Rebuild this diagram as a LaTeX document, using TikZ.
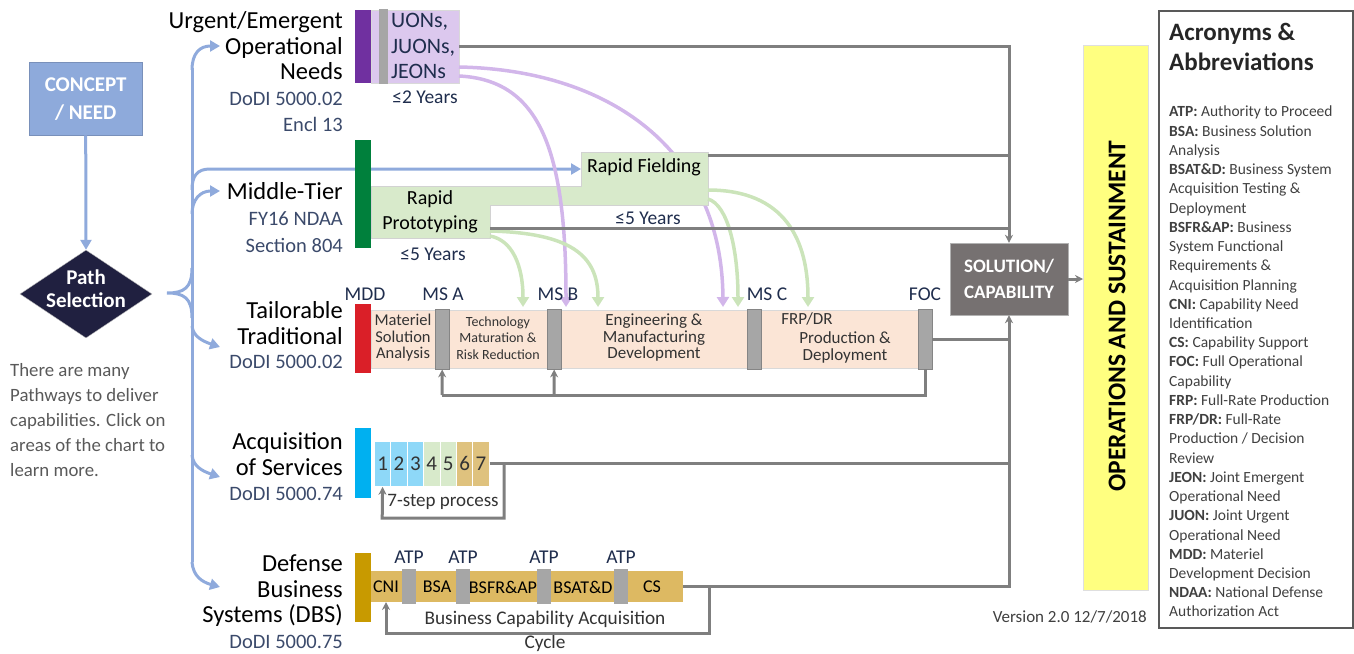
\documentclass[tikz,border=0pt]{standalone}
\usepackage{fontspec}
\setmainfont{Carlito}
\usepackage{tikz}
\usetikzlibrary{positioning}
\usetikzlibrary{arrows.meta}
\usetikzlibrary{shapes.geometric}

\definecolor{conceptblue}{HTML}{8EAADB}
\definecolor{pathnavy}{HTML}{202040}
\definecolor{branchblue}{HTML}{8FAADC}
\definecolor{uonpurple}{HTML}{7030A0}
\definecolor{uonlilac}{HTML}{DCC8EE}
\definecolor{curvelilac}{HTML}{D2B6EA}
\definecolor{mtagreen}{HTML}{00803C}
\definecolor{rapidgreen}{HTML}{D8EACB}
\definecolor{curvegreen}{HTML}{CBE4BA}
\definecolor{ttred}{HTML}{DA1F28}
\definecolor{ttpeach}{HTML}{FBE5D6}
\definecolor{msgray}{HTML}{A6A6A6}
\definecolor{linkgray}{HTML}{7F7F7F}
\definecolor{aoscyan}{HTML}{00B0F0}
\definecolor{stepcyan}{HTML}{8ED8F8}
\definecolor{steptan}{HTML}{DFC27E}
\definecolor{dbsgold}{HTML}{C89A00}
\definecolor{dbstan}{HTML}{DDB962}
\definecolor{solgray}{HTML}{767171}
\definecolor{omyellow}{HTML}{FFFF80}
\definecolor{refnavy}{HTML}{3B4A6B}
\definecolor{msnavy}{HTML}{1F2D4D}
\definecolor{notegray}{HTML}{595959}
\definecolor{acrtext}{HTML}{404040}

\newcommand{\fsz}[2]{\fontsize{#1}{#2}\selectfont}

\tikzset{
  blk/.style={rectangle, inner sep=0pt, anchor=north west},
  pathlbl/.style={anchor=east, align=right, inner sep=0pt, font=\fsz{24.5}{25.5}},
  doclbl/.style={anchor=east, align=right, inner sep=0pt, font=\fsz{20.5}{26.5}, text=refnavy},
  mslbl/.style={inner sep=0pt, font=\fsz{19.5}{19.5}, text=msnavy},
  msbar/.style={blk, fill=msgray, draw=msgray!80!black, line width=0.4pt, minimum width=14pt, minimum height=60pt},
  atpbar/.style={blk, fill=msgray, minimum width=14pt, minimum height=35pt},
  phase/.style={align=center, inner sep=0pt, text=black!80},
  bline/.style={draw=branchblue, line width=3pt},
  barrow/.style={bline, -{Triangle[length=10pt,width=11pt]}},
  gline/.style={draw=linkgray, line width=3pt},
  garrow/.style={gline, -{Stealth[length=8pt,width=8pt]}},
  lilacarrow/.style={draw=curvelilac, line width=3.5pt, -{Triangle[length=10pt,width=12pt]}},
  greenarrow/.style={draw=curvegreen, line width=3.5pt, -{Triangle[length=10pt,width=12pt]}}
}

\begin{document}
\begin{tikzpicture}[x=1pt,y=-1pt]
\useasboundingbox (0,0) rectangle (1354,653);

% concept and path selection
\node[blk, fill=conceptblue, draw=conceptblue!85!black, minimum width=113pt, minimum height=73pt, align=center, text=white, font=\fsz{21}{28}\bfseries] (concept) at (29,62) {CONCEPT\\/ NEED};
\node[diamond, fill=pathnavy, draw=gray!50, inner sep=0pt, minimum width=132pt, minimum height=88pt] (select) at (86,294) {};
\node[align=center, text=white, font=\fsz{21}{23}\bfseries] (selecttxt) at (86,289) {Path\\Selection};
\draw[barrow] (concept.south) -- (select.north);
\node[anchor=west, align=left, inner sep=0pt, text=notegray, font=\fsz{18.8}{25}] (note) at (10,420) {There are many\\Pathways to deliver\\capabilities. Click on\\areas of the chart to\\learn more.};

% branches
\coordinate (uonin) at (220,46);
\coordinate (mtain) at (220,191);
\coordinate (ttin) at (220,347);
\coordinate (aosin) at (220,477);
\coordinate (dbsin) at (220,587);
\coordinate (rfin) at (581,169);
\draw[bline] (192,268) .. controls (192,288) and (184,293) .. (167,293) .. controls (184,293) and (192,298) .. (192,318);
\draw[bline] (192,68) -- (192,562);
\draw[barrow] (192,70) .. controls (192,53) and (200,46) .. (uonin);
\draw[barrow] (192,190) .. controls (192,176) and (197,169) .. (210,169) -- (rfin);
\draw[barrow] (192,214) .. controls (192,200) and (200,191) .. (mtain);
\draw[barrow] (192,326) .. controls (193,336) and (202,341) .. (ttin);
\draw[barrow] (192,455) .. controls (193,466) and (202,471) .. (aosin);
\draw[barrow] (192,562) .. controls (193,576) and (202,582) .. (dbsin);

% pathway names
\node[pathlbl] (uonlbl) at (343,46) {Urgent/Emergent\\Operational\\Needs};
\node[doclbl] (uondoc) at (343,112) {DoDI 5000.02\\Encl 13};
\node[pathlbl] (mtalbl) at (343,191) {Middle-Tier};
\node[doclbl] (mtadoc) at (343,232) {FY16 NDAA\\Section 804};
\node[pathlbl] (ttlbl) at (343,323) {Tailorable\\Traditional};
\node[doclbl] (ttdoc) at (343,362) {DoDI 5000.02};
\node[pathlbl] (aoslbl) at (343,454) {Acquisition\\of Services};
\node[doclbl] (aosdoc) at (343,494) {DoDI 5000.74};
\node[pathlbl] (dbslbl) at (343,591) {Defense\\Business\\Systems (DBS)};
\node[doclbl] (dbsdoc) at (343,642) {DoDI 5000.75};

% urgent needs
\node[blk, fill=uonlilac, draw=gray!30, minimum width=88pt, minimum height=73pt] (uon) at (371,10) {};
\node[blk, fill=uonpurple, minimum width=16pt, minimum height=73pt] (uonbar) at (355,10) {};
\node[blk, fill=msgray, minimum width=9pt, minimum height=75pt] (uonms) at (379,9) {};
\node[anchor=west, align=left, inner sep=0pt, font=\fsz{22}{25.5}, text=msnavy] (uontxt) at (391,46) {UONs,\\JUONs,\\JEONs};
\node[mslbl] (uonyrs) at (425,97) {≤2 Years};

\coordinate (jeonA) at (459,76);
\coordinate (jeonB) at (459,67);
\coordinate (msbin) at (566,307);
\coordinate (mscin) at (723,307);
\draw[lilacarrow] (jeonB) .. controls (610,70) and (722,150) .. (mscin);

% middle tier
\draw[fill=rapidgreen, draw=gray!35] (371,186) -- (581,186) -- (581,152) -- (708,152) -- (708,205) -- (490,205) -- (490,238) -- (371,238) -- cycle;
\node[blk, fill=mtagreen, minimum width=16pt, minimum height=108pt] (mtabar) at (355,140) {};
\node[align=center, inner sep=0pt, font=\fsz{20}{25}] (rp) at (430,212) {Rapid\\Prototyping};
\node[inner sep=0pt, font=\fsz{20}{20}] (rf) at (644,167) {Rapid Fielding};
\node[mslbl] (rpyrs) at (433,254) {≤5 Years};
\node[mslbl] (rfyrs) at (648,218) {≤5 Years};
\coordinate (rfR) at (708,155);
\coordinate (rpR) at (490,228);

\draw[lilacarrow] (jeonA) .. controls (540,80) and (566,150) .. (msbin);
\coordinate (rpoutA) at (490,236);
\coordinate (rpoutB) at (490,231);
\coordinate (rfoutA) at (708,190);
\coordinate (rfoutB) at (708,199);
\draw[greenarrow] (rpoutA) .. controls (512,240) and (523,265) .. (523,307);
\draw[greenarrow] (rpoutB) .. controls (570,233) and (598,255) .. (598,307);
\draw[greenarrow] (rfoutA) .. controls (785,190) and (808,240) .. (808,307);
\draw[greenarrow] (rfoutB) .. controls (728,205) and (738,250) .. (738,307);

% tailorable traditional
\node[blk, fill=ttpeach, draw=gray!30, minimum width=561pt, minimum height=58pt] (tt) at (371,310) {};
\node[blk, fill=ttred, minimum width=16pt, minimum height=69pt] (ttbar) at (355,304) {};
\node[msbar] (msa) at (435,309) {};
\node[msbar] (msb) at (547,309) {};
\node[msbar] (msc) at (747,309) {};
\node[msbar] (foc) at (918,309) {};
\node[mslbl] (mddlbl) at (365,294) {MDD};
\node[mslbl] (msalbl) at (443,294) {MS A};
\node[mslbl] (msblbl) at (558,294) {MS B};
\node[mslbl] (msclbl) at (767,294) {MS C};
\node[mslbl] (foclbl) at (925,294) {FOC};
\node[phase, font=\fsz{16.5}{16.5}] (msa-ph) at (403,338) {Materiel\\Solution\\Analysis};
\node[phase, font=\fsz{14}{16.5}] (tmrr) at (498,338) {Technology\\Maturation \&\\Risk Reduction};
\node[phase, font=\fsz{17}{16.5}] (emd) at (654,338) {Engineering \&\\Manufacturing\\Development};
\node[phase, font=\fsz{17}{17}] (frpdr) at (807,319) {FRP/DR};
\node[phase, font=\fsz{17}{17}] (pd) at (845,347) {Production \&\\Deployment};

% acquisition of services
\node[blk, fill=aoscyan, minimum width=16pt, minimum height=70pt] (aosbar) at (355,428) {};
\foreach \i/\c in {1/stepcyan,2/stepcyan,3/stepcyan,4/rapidgreen,5/rapidgreen,6/steptan,7/steptan}
  \node[blk, fill=\c, draw=white, line width=0.8pt, minimum width=16.4pt, minimum height=45pt, font=\fsz{21}{21}, text=black!80] (step\i) at ({374+16.4*(\i-1)},441) {\i};
\node[inner sep=0pt, font=\fsz{19}{19}, text=black!80] (steptxt) at (443,502) {7-step process};

% defense business systems
\node[blk, fill=dbstan, minimum width=312pt, minimum height=31pt] (dbs) at (371,571) {};
\node[blk, fill=dbsgold, minimum width=16pt, minimum height=69pt] (dbsbar) at (355,553) {};
\foreach \x/\n in {402/1,456/2,537/3,614/4}
  \node[atpbar] (atp\n) at (\x,569) {};
\foreach \x/\n in {409/1,463/2,544/3,621/4}
  \node[mslbl] (atplbl\n) at (\x,557) {ATP};
\node[inner sep=0pt, font=\fsz{18}{18}] (cni) at (386,587) {CNI};
\node[inner sep=0pt, font=\fsz{18}{18}] (bsa) at (437,587) {BSA};
\node[inner sep=0pt, font=\fsz{18}{18}] (bsfr) at (503,587) {BSFR\&AP};
\node[inner sep=0pt, font=\fsz{18}{18}] (bsat) at (583,587) {BSAT\&D};
\node[inner sep=0pt, font=\fsz{18}{18}] (cs) at (652,587) {CS};
\node[inner sep=0pt, font=\fsz{19.3}{19.3}, text=black!80] (bcac) at (545,619) {Business Capability Acquisition};
\node[inner sep=0pt, font=\fsz{19.3}{19.3}, text=black!80] (cycle) at (545,643) {Cycle};

% solution and sustainment
\node[fill=solgray, draw=gray!60, minimum width=118pt, minimum height=72pt, align=center, text=white, font=\fsz{19}{26}\bfseries] (sol) at (1009,279) {SOLUTION/\\CAPABILITY};
\node[blk, fill=omyellow, draw=gray!25, minimum width=65pt, minimum height=545pt] (om) at (1083,45) {};
\node[rotate=90, font=\fsz{25.5}{25.5}\bfseries] (omtxt) at (1117,316) {OPERATIONS AND SUSTAINMENT};

% gray connectors
\draw[garrow] (uon.east) -| (sol.north);
\draw[gline] (rfR) -- (rfR -| sol.north);
\draw[gline] (rpR) -- (rpR -| sol.north);
\draw[gline] (foc.east) -- (foc.east -| sol.south);
\draw[gline] (step7.east) -- (step7.east -| sol.south);
\draw[garrow] (dbs.east) -| (sol.south);
\draw[garrow] (sol.east) -- (sol.east -| om.west);

% feedback loops
\coordinate (ttloopA) at (442,395);
\coordinate (ttloopB) at (554,395);
\draw[gline] (foc.south) |- (ttloopA);
\draw[garrow] (ttloopA) -- (msa.south);
\draw[garrow] (ttloopB) -- (msb.south);
\coordinate (aosloopR) at (504,463.5);
\coordinate (aosloopL) at (382.2,518);
\draw[garrow] (aosloopR) |- (aosloopL) -- (step1.south);
\coordinate (dbsloopR) at (709,586.5);
\coordinate (dbsloopL) at (386,633);
\coordinate (cniin) at (386,602);
\draw[garrow] (dbsloopR) |- (dbsloopL) -- (cniin);

% acronyms
\node[blk, draw=black!65, line width=1.5pt, minimum width=194pt, minimum height=617pt] (acr) at (1158,10) {};
\node[anchor=west, align=left, inner sep=0pt, font=\fsz{25}{30}\bfseries, text=black!85] (acrtitle) at (1169,47) {Acronyms \&\\Abbreviations};
\node[blk, align=left, font=\fsz{15.5}{19.23}, text=acrtext] (acrlist) at (1169,106) {%
\textbf{ATP:} Authority to Proceed\\
\textbf{BSA:} Business Solution\\
Analysis\\
\textbf{BSAT\&D:} Business System\\
Acquisition Testing \&\\
Deployment\\
\textbf{BSFR\&AP:} Business\\
System Functional\\
Requirements \&\\
Acquisition Planning\\
\textbf{CNI:} Capability Need\\
Identification\\
\textbf{CS:} Capability Support\\
\textbf{FOC:} Full Operational\\
Capability\\
\textbf{FRP:} Full-Rate Production\\
\textbf{FRP/DR:} Full-Rate\\
Production / Decision\\
Review\\
\textbf{JEON:} Joint Emergent\\
Operational Need\\
\textbf{JUON:} Joint Urgent\\
Operational Need\\
\textbf{MDD:} Materiel\\
Development Decision\\
\textbf{NDAA:} National Defense\\
Authorization Act};
\node[anchor=east, inner sep=0pt, font=\fsz{17}{17}, text=black!75] (version) at (1147,617) {Version 2.0 12/7/2018};
\end{tikzpicture}
\end{document}
